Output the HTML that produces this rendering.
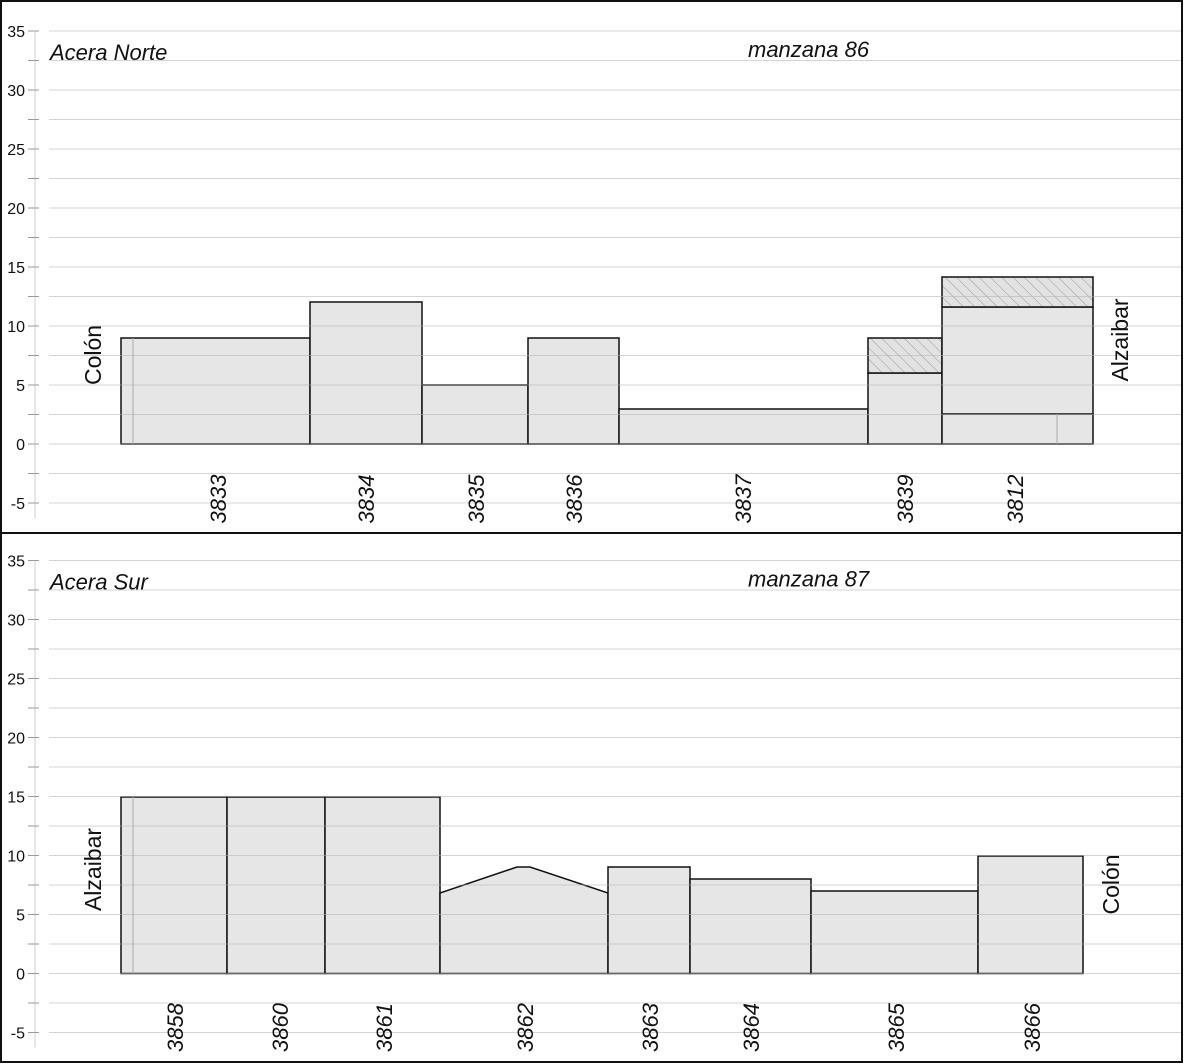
<!DOCTYPE html>
<html><head><meta charset="utf-8"><style>
html,body{margin:0;padding:0;background:#fff}
svg{display:block}
text{font-family:"Liberation Sans",Arial,sans-serif;fill:#111}
.t{font-size:16px;text-anchor:end}
.l{font-size:22px;font-style:italic;text-anchor:middle}
.h{font-size:22px;font-style:italic}
.s{font-size:23px;text-anchor:middle}
.g line{stroke:#b4b4b4;stroke-width:1}
.k line{stroke:#999;stroke-width:1}
.b{fill:#e6e6e6;stroke:#111;stroke-width:1.5}
</style></head><body>
<svg width="1184" height="1064" viewBox="0 0 1184 1064" xmlns="http://www.w3.org/2000/svg">
<defs>
<pattern id="hat" patternUnits="userSpaceOnUse" width="8" height="8" patternTransform="rotate(-45)">
<rect width="8" height="8" fill="#e2e2e2"/><line x1="0" y1="0" x2="0" y2="8" stroke="#9a9a9a" stroke-width="1"/>
</pattern>
<g id="axis">
<line x1="35" y1="31" x2="35" y2="518" stroke="#ccc"/>
<g class="k">
<line x1="28" y1="31" x2="39" y2="31"/><line x1="28" y1="60.5" x2="39" y2="60.5"/><line x1="28" y1="90" x2="39" y2="90"/><line x1="28" y1="119.5" x2="39" y2="119.5"/><line x1="28" y1="149" x2="39" y2="149"/><line x1="28" y1="178.5" x2="39" y2="178.5"/><line x1="28" y1="208" x2="39" y2="208"/><line x1="28" y1="237.5" x2="39" y2="237.5"/><line x1="28" y1="267" x2="39" y2="267"/><line x1="28" y1="296.5" x2="39" y2="296.5"/><line x1="28" y1="326" x2="39" y2="326"/><line x1="28" y1="355.5" x2="39" y2="355.5"/><line x1="28" y1="385" x2="39" y2="385"/><line x1="28" y1="414.5" x2="39" y2="414.5"/><line x1="28" y1="444" x2="39" y2="444"/><line x1="28" y1="473.5" x2="39" y2="473.5"/><line x1="28" y1="503" x2="39" y2="503"/>
</g>
<text class="t" x="25" y="37">35</text><text class="t" x="25" y="96">30</text><text class="t" x="25" y="155">25</text><text class="t" x="25" y="214">20</text><text class="t" x="25" y="273">15</text><text class="t" x="25" y="332">10</text><text class="t" x="25" y="391">5</text><text class="t" x="25" y="450">0</text><text class="t" x="25" y="509">-5</text>
</g>
<g id="grid" class="g">
<line x1="49" y1="31" x2="1181" y2="31"/><line x1="49" y1="60.5" x2="1181" y2="60.5"/><line x1="49" y1="90" x2="1181" y2="90"/><line x1="49" y1="119.5" x2="1181" y2="119.5"/><line x1="49" y1="149" x2="1181" y2="149"/><line x1="49" y1="178.5" x2="1181" y2="178.5"/><line x1="49" y1="208" x2="1181" y2="208"/><line x1="49" y1="237.5" x2="1181" y2="237.5"/><line x1="49" y1="267" x2="1181" y2="267"/><line x1="49" y1="296.5" x2="1181" y2="296.5"/><line x1="49" y1="326" x2="1181" y2="326"/><line x1="49" y1="355.5" x2="1181" y2="355.5"/><line x1="49" y1="385" x2="1181" y2="385"/><line x1="49" y1="414.5" x2="1181" y2="414.5"/><line x1="49" y1="444" x2="1181" y2="444"/><line x1="49" y1="473.5" x2="1181" y2="473.5"/><line x1="49" y1="503" x2="1181" y2="503"/>
</g>
</defs>

<!-- TOP PANEL -->
<use href="#axis"/>
<rect class="b" x="121" y="338" width="189" height="106"/>
<rect class="b" x="310" y="302" width="112" height="142"/>
<rect class="b" x="422" y="385" width="106" height="59"/>
<rect class="b" x="528" y="338" width="91" height="106"/>
<rect class="b" x="619" y="409" width="249" height="35"/>
<rect class="b" x="868" y="373" width="74" height="71"/>
<rect x="868" y="338" width="74" height="35" fill="url(#hat)" stroke="#111" stroke-width="1.5"/>
<rect class="b" x="942" y="414" width="151" height="30"/>
<rect class="b" x="942" y="307" width="151" height="107"/>
<rect x="942" y="277" width="151" height="30" fill="url(#hat)" stroke="#111" stroke-width="1.5"/>
<g opacity="0.55"><use href="#grid"/></g>
<line x1="133" y1="338" x2="133" y2="444" stroke="#aaa"/>
<line x1="1057" y1="414" x2="1057" y2="444" stroke="#aaa"/>
<text class="h" x="50" y="60">Acera Norte</text>
<text class="h" x="748" y="57">manzana 86</text>
<text class="s" transform="translate(101,355) rotate(-90)">Colón</text>
<text class="s" transform="translate(1128,340) rotate(-90)">Alzaibar</text>
<text class="l" transform="translate(226,499) rotate(-90)">3833</text>
<text class="l" transform="translate(374,499) rotate(-90)">3834</text>
<text class="l" transform="translate(484,499) rotate(-90)">3835</text>
<text class="l" transform="translate(582,499) rotate(-90)">3836</text>
<text class="l" transform="translate(751,499) rotate(-90)">3837</text>
<text class="l" transform="translate(913,499) rotate(-90)">3839</text>
<text class="l" transform="translate(1023,499) rotate(-90)">3812</text>

<!-- BOTTOM PANEL -->
<g transform="translate(0,529.5)">
<use href="#axis"/>
<rect class="b" x="121" y="267.5" width="106" height="176.5"/>
<rect class="b" x="227" y="267.5" width="98" height="176.5"/>
<rect class="b" x="325" y="267.5" width="115" height="176.5"/>
<polygon class="b" points="440,444 440,363.5 517,337.5 530,337.5 608,363.5 608,444"/>
<rect class="b" x="608" y="337.5" width="82" height="106.5"/>
<rect class="b" x="690" y="349.5" width="121" height="94.5"/>
<rect class="b" x="811" y="361.5" width="167" height="82.5"/>
<rect class="b" x="978" y="326.5" width="105" height="117.5"/>
<g opacity="0.55"><use href="#grid"/></g>
<line x1="133" y1="267.5" x2="133" y2="444" stroke="#aaa"/>
<text class="h" x="50" y="60">Acera Sur</text>
<text class="h" x="748" y="57">manzana 87</text>
<text class="s" transform="translate(101,340) rotate(-90)">Alzaibar</text>
<text class="s" transform="translate(1119,355) rotate(-90)">Colón</text>
<text class="l" transform="translate(183,498) rotate(-90)">3858</text>
<text class="l" transform="translate(288,498) rotate(-90)">3860</text>
<text class="l" transform="translate(392,498) rotate(-90)">3861</text>
<text class="l" transform="translate(533,498) rotate(-90)">3862</text>
<text class="l" transform="translate(658,498) rotate(-90)">3863</text>
<text class="l" transform="translate(759,498) rotate(-90)">3864</text>
<text class="l" transform="translate(904,498) rotate(-90)">3865</text>
<text class="l" transform="translate(1040,498) rotate(-90)">3866</text>
</g>

<rect x="1" y="1" width="1181" height="1061" fill="none" stroke="#111" stroke-width="2"/>
<line x1="1" y1="533" x2="1182" y2="533" stroke="#111" stroke-width="2"/>
</svg>
</body></html>
